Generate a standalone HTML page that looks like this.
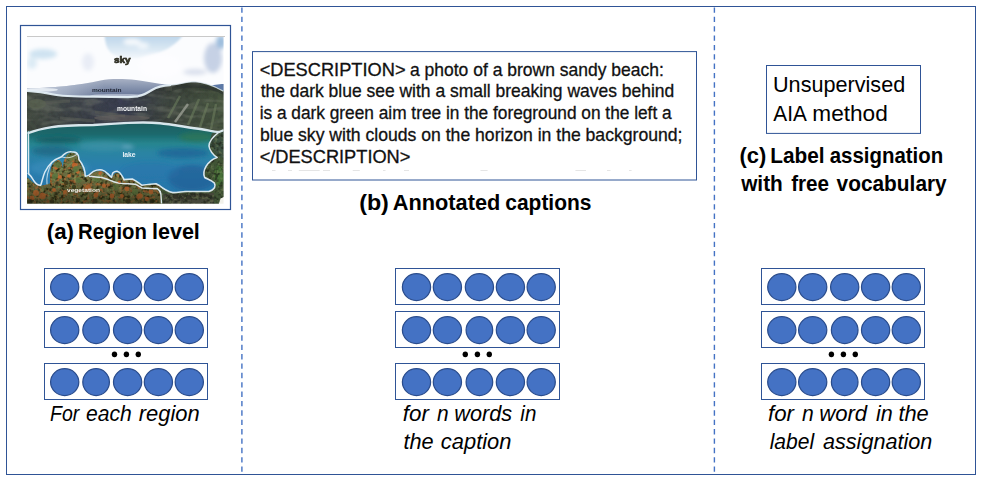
<!DOCTYPE html>
<html><head><meta charset="utf-8"><title>figure</title>
<style>
html,body{margin:0;padding:0;background:#fff;}
body{width:982px;height:482px;position:relative;overflow:hidden;font-family:"Liberation Sans",sans-serif;color:#000;}
svg{position:absolute;left:0;top:0;}
</style></head><body>
<svg width="982" height="482" viewBox="0 0 982 482">
<rect x="6.5" y="6.5" width="969" height="468" fill="#fff" stroke="#2f5496" stroke-width="1"/>
<line x1="241.9" y1="7.4" x2="241.9" y2="471.8" stroke="#4472c4" stroke-width="1.4" stroke-dasharray="5.35 4.02"/>
<line x1="714.4" y1="7.4" x2="714.4" y2="471.8" stroke="#4472c4" stroke-width="1.4" stroke-dasharray="5.35 4.02"/>
<rect x="20.5" y="25.5" width="210" height="184" fill="#fff" stroke="#2f5496" stroke-width="1.2"/>
<rect x="252.5" y="51.6" width="444" height="128.4" fill="#fff" stroke="#2f5496" stroke-width="1"/>
<rect x="766.5" y="65.5" width="154" height="67.9" fill="#fff" stroke="#2f5496" stroke-width="1"/>
<defs>
<clipPath id="pc"><rect x="27" y="36.6" width="196.6" height="167.1"/></clipPath>
<linearGradient id="gsky" x1="0" y1="0" x2="0" y2="1"><stop offset="0" stop-color="#b2cfe8"/><stop offset=".5" stop-color="#cfe1f0"/><stop offset="1" stop-color="#f2f7fb"/></linearGradient>
<linearGradient id="gfar" x1="0" y1="0" x2="0" y2="1"><stop offset="0" stop-color="#a7b0c3"/><stop offset=".35" stop-color="#8a97b1"/><stop offset=".75" stop-color="#6b7a9a"/><stop offset="1" stop-color="#8d9ab3"/></linearGradient>
<linearGradient id="gfarh" x1="0" y1="0" x2="1" y2="0"><stop offset="0" stop-color="#dfe6ef" stop-opacity=".9"/><stop offset=".3" stop-color="#c5cedd" stop-opacity=".55"/><stop offset=".55" stop-color="#c5cedd" stop-opacity="0"/></linearGradient>
<linearGradient id="gmtn" x1="0" y1="0" x2="1" y2="0"><stop offset="0" stop-color="#4a5345"/><stop offset=".22" stop-color="#41474a"/><stop offset=".5" stop-color="#3a3e52"/><stop offset=".72" stop-color="#404841"/><stop offset="1" stop-color="#4b5a42"/></linearGradient>
<linearGradient id="gmtnv" x1="0" y1="0" x2="0" y2="1"><stop offset="0" stop-color="#000" stop-opacity=".28"/><stop offset=".35" stop-color="#000" stop-opacity="0"/><stop offset="1" stop-color="#000" stop-opacity=".12"/></linearGradient>
<linearGradient id="glake" gradientUnits="userSpaceOnUse" x1="0" y1="122" x2="0" y2="194"><stop offset="0" stop-color="#1c5d5f"/><stop offset=".17" stop-color="#1b696d"/><stop offset=".3" stop-color="#27858f"/><stop offset=".42" stop-color="#2a84a2"/><stop offset=".65" stop-color="#2b7eaf"/><stop offset="1" stop-color="#2675a8"/></linearGradient>
<filter id="soft" x="-5%" y="-5%" width="110%" height="110%"><feGaussianBlur stdDeviation="0.75"/></filter>
<filter id="soft3" x="-10%" y="-30%" width="120%" height="160%"><feGaussianBlur stdDeviation="0.6"/></filter>
<filter id="soft2" x="-5%" y="-5%" width="110%" height="110%"><feGaussianBlur stdDeviation="0.45"/></filter>
<filter id="cloud1" x="-10%" y="-10%" width="120%" height="120%"><feGaussianBlur stdDeviation="1.3"/></filter>
<filter id="cloud" x="-10%" y="-10%" width="120%" height="120%"><feGaussianBlur stdDeviation="2.2"/></filter>
<filter id="nz" x="0" y="0" width="100%" height="100%"><feTurbulence type="fractalNoise" baseFrequency="0.22" numOctaves="2" seed="7" result="n"/><feColorMatrix in="n" type="matrix" values="0 0 0 0 0  0 0 0 0 0  0 0 0 0 0  1.6 0 0 0 -0.62" result="m"/><feComposite in="SourceGraphic" in2="m" operator="in"/></filter>
<filter id="nz3" x="0" y="0" width="100%" height="100%"><feTurbulence type="fractalNoise" baseFrequency="0.27" numOctaves="2" seed="41" result="n"/><feColorMatrix in="n" type="matrix" values="0 0 0 0 0  0 0 0 0 0  0 0 0 0 0  4.5 0 0 0 -2.3" result="m"/><feComposite in="SourceGraphic" in2="m" operator="in"/></filter>
<filter id="nzd" x="0" y="0" width="100%" height="100%"><feTurbulence type="fractalNoise" baseFrequency="0.26" numOctaves="2" seed="5" result="n"/><feColorMatrix in="n" type="matrix" values="0 0 0 0 0  0 0 0 0 0  0 0 0 0 0  4 0 0 0 -1.8" result="m"/><feComposite in="SourceGraphic" in2="m" operator="in"/></filter>
<filter id="nzm" x="0" y="0" width="100%" height="100%"><feTurbulence type="fractalNoise" baseFrequency="0.05 0.16" numOctaves="2" seed="11" result="n"/><feColorMatrix in="n" type="matrix" values="0 0 0 0 0  0 0 0 0 0  0 0 0 0 0  4 0 0 0 -1.9" result="m"/><feComposite in="SourceGraphic" in2="m" operator="in"/></filter>
<filter id="nz2" x="0" y="0" width="100%" height="100%"><feTurbulence type="fractalNoise" baseFrequency="0.3" numOctaves="2" seed="23" result="n"/><feColorMatrix in="n" type="matrix" values="0 0 0 0 0  0 0 0 0 0  0 0 0 0 0  4.5 0 0 0 -2.3" result="m"/><feComposite in="SourceGraphic" in2="m" operator="in"/></filter>
<path id="mt" d="M20,90.6 C33,91 44,92.4 52,94.2 C60,96 68,96.5 93.5,96.7 L128,97.2 L138,96.3 C143,95.2 147.6,92.8 152,90 C157,87 163,85.5 170,85.2 C178,84.6 186,82 193.5,81.7 C204,82 214,86 226,92 L226,136 L20,136 Z"/>
<path id="veg" d="M20,176 L28,178 C31,181 35,185 40.7,185.5 C44,185.5 46,184.5 50,183.5 L50,176 C50,168 53,161 58,160 C61,160 62,164 63,168 C63.5,160 66,153.5 71.3,152.5 C77,152.5 79,158 80.5,163 C82.5,168 84,173 85.2,177 C88,176 90,174.8 93.5,172.3 C97,170.8 100,170.8 102,171.2 C105,172.5 108,175.5 111.6,178.3 C113,175 115,173 117.2,172.5 C120,173.5 122,176.5 124.1,180.2 L132.3,180 C137.9,182.5 139,184 142,186 C147.6,185.3 152,184.8 156,184.6 L158.8,186 C160,187.5 161,191 161.2,196 L161.5,210 L20,210 Z"/>
<path id="land" d="M219,132 C214,136 208.8,141.5 209,146 C209.5,150 213,155.3 217.2,157.4 C212,159 208,163 206,166.4 C204,170 203,174 204.7,177.5 C207,179 212,180 214.4,183.1 C216,186 215,189.5 208.8,191.5 L185.2,191.5 C180,192 176,192.8 172.7,192.6 C169,192 165.7,190.8 158.8,185.2 L156,183.8 C152,184 147.6,184.5 142,185.2 C139,183.5 137.9,181.7 132.3,179 L124,179.6 L124,210 L226,210 L226,131 Z"/>
<linearGradient id="gvd" gradientUnits="userSpaceOnUse" x1="0" y1="178" x2="0" y2="204"><stop offset="0" stop-color="#1c1c0c" stop-opacity="0"/><stop offset=".6" stop-color="#1c1c0c" stop-opacity=".28"/><stop offset="1" stop-color="#14140a" stop-opacity=".5"/></linearGradient>
</defs>
<g clip-path="url(#pc)">
<g filter="url(#soft)">
<!-- sky / clouds -->
<rect x="20" y="30" width="212" height="80" fill="#fbfcfe"/>
<path d="M104,30 L186,30 C181,40 173,46 165,50 C157,54 149,56 139,58 C128,59 117,58 111,53 C106,48 105,42 104,30 Z" fill="url(#gsky)" filter="url(#cloud1)"/>
<g filter="url(#cloud)">
<ellipse cx="43" cy="54" rx="14" ry="5" fill="#cfe3f1"/>
<ellipse cx="32" cy="63" rx="5" ry="6" fill="#dcebf5"/>
<ellipse cx="132" cy="42" rx="9" ry="3.5" fill="#f6f9fc"/>
<ellipse cx="143" cy="46" rx="6" ry="3.5" fill="#f1f6fb"/>
<ellipse cx="213" cy="58" rx="9" ry="15" fill="#c6d1e5"/>
<ellipse cx="221" cy="42" rx="5" ry="7" fill="#9dbddd"/>
<ellipse cx="88" cy="62" rx="6" ry="9" fill="#e9edf6"/>
<ellipse cx="195" cy="72" rx="12" ry="3" fill="#d9dfec"/>
<ellipse cx="160" cy="66" rx="22" ry="12" fill="#fdfdff"/>
</g>
<!-- distant mountain -->
<path d="M20,88.8 C50,87.5 78,86 100.5,80.4 C111,78.3 125,78.8 136,80 C150,82 160,84 174,85.5 L174,100 L20,100 Z" fill="url(#gfar)"/>
<path d="M20,88.8 C50,87.5 78,86 100.5,80.4 C111,78.3 125,78.8 136,80 C150,82 160,84 174,85.5 L174,100 L20,100 Z" fill="url(#gfarh)"/>
<path d="M210,86 C215,84.5 220,84 226,84 L226,94 L210,92 Z" fill="#5d79a6"/>
<ellipse cx="42" cy="89.8" rx="16" ry="1.8" fill="#eef2f7" opacity=".8"/><ellipse cx="120" cy="95.5" rx="30" ry="1.6" fill="#b4bdd0" opacity=".8"/>
<!-- near mountain -->
<use href="#mt" fill="url(#gmtn)"/>
<use href="#mt" fill="url(#gmtnv)"/>
<use href="#mt" fill="#1c2020" filter="url(#nz)" opacity=".3"/><use href="#mt" fill="#858a7a" filter="url(#nzm)" opacity=".3"/>
<path d="M188,104 L175,122" stroke="#9a9e93" stroke-width="2.4" opacity=".8"/>
<path d="M199,99 L188,125 M208,103 L200,127 M216,104 L211,129 M180,96 L168,118" stroke="#6f8060" stroke-width="2.4" opacity=".55"/>
<path d="M40,103 L70,101 M95,112 L125,116 M60,118 L95,121" stroke="#5d6058" stroke-width="3" opacity=".5"/>
<ellipse cx="37" cy="104" rx="9" ry="5" fill="#5d6653" opacity=".6"/><ellipse cx="122" cy="118" rx="28" ry="3" fill="#6b6660" opacity=".55"/><path d="M172,87 C182,85 192,83.5 200,84.5 C210,86 218,89 224,92.5 L224,95 C214,90 204,87.5 194,87.5 C186,87.5 178,89 172,91 Z" fill="#2c322e" opacity=".6"/>
<!-- lake -->
<path d="M20,133 C35,129.8 45,128 51.8,126.9 C60,125.5 69.9,125 93.5,124.8 C105,124 114.4,123.4 128,122.7 C140,122.2 151.8,122.3 160,123 C170,124 186.6,126.9 201.9,129 C208,130 214.4,131.5 226,131 L226,210 L20,210 Z" fill="url(#glake)"/>
<g filter="url(#cloud)">
<ellipse cx="197" cy="137" rx="18" ry="5" fill="#2a7455" opacity=".8"/>
<ellipse cx="183" cy="153" rx="26" ry="5" fill="#1d5f95" opacity=".7"/>
<ellipse cx="58" cy="140" rx="24" ry="3.5" fill="#15555b" opacity=".7"/>
<ellipse cx="52" cy="151" rx="20" ry="5" fill="#1a607e" opacity=".65"/>
<ellipse cx="105" cy="146" rx="26" ry="5" fill="#4597b4" opacity=".5"/>
<ellipse cx="60" cy="168" rx="30" ry="8" fill="#3a8fbc" opacity=".55"/>
<ellipse cx="128" cy="147" rx="6" ry="2" fill="#7db4cf" opacity=".6"/>
<ellipse cx="192" cy="178" rx="24" ry="13" fill="#1f5690" opacity=".55"/>
<ellipse cx="150" cy="172" rx="30" ry="10" fill="#2470a8" opacity=".4"/>
</g>
<!-- land right of lake -->
<use href="#land" fill="#3f5334"/>
<path d="M212,133 L226,131 L226,160 C220,157 212,152 210,146 C209,141 211,137 212,133Z" fill="#3c5140"/>
<ellipse cx="219" cy="176" rx="5" ry="11" fill="#4c7d3a" opacity=".7"/>
<path d="M163,194 L214,193 L214,210 L163,210 Z" fill="#45473a"/>
<ellipse cx="190" cy="196.5" rx="24" ry="3" fill="#2f3128" opacity=".8"/>
<use href="#land" fill="#20281c" filter="url(#nzd)" opacity=".7"/>
<use href="#land" fill="#7d8a5c" filter="url(#nz3)" opacity=".45"/>
<!-- vegetation foreground -->
<use href="#veg" fill="#6b6b40"/>
<use href="#veg" fill="#26280f" filter="url(#nzd)" opacity=".9"/>
<use href="#veg" fill="#c46a36" filter="url(#nz2)" opacity=".7"/>
<use href="#veg" fill="#7f9858" filter="url(#nz3)" opacity=".6"/>
<g fill="#c8672f" filter="url(#soft2)" opacity=".85">
<circle cx="36" cy="193" r="3"/><circle cx="42.5" cy="196" r="3.2"/><circle cx="32" cy="198" r="2.4"/><circle cx="56" cy="168" r="1.8"/><circle cx="74.5" cy="165" r="2.6"/><circle cx="72" cy="159" r="2"/><circle cx="60" cy="177" r="2"/><circle cx="100" cy="173.5" r="1.6"/><circle cx="65" cy="192" r="2"/><circle cx="88" cy="188" r="3"/><circle cx="112" cy="196" r="2.4"/><circle cx="127" cy="189" r="2.4"/><circle cx="140" cy="196" r="2.8"/><circle cx="151" cy="192" r="2.4"/><circle cx="104" cy="186" r="2"/><circle cx="119" cy="182" r="1.6"/><circle cx="78" cy="172" r="1.8"/><circle cx="69" cy="176" r="1.8"/><circle cx="96" cy="195" r="2.4"/><circle cx="54" cy="190" r="2"/><circle cx="147" cy="199" r="2.2"/><circle cx="122" cy="196" r="2"/>
</g>
<g fill="#5a7740" filter="url(#soft2)" opacity=".8"><circle cx="58" cy="165" r="3"/><circle cx="71" cy="158" r="3"/><circle cx="76" cy="169" r="3"/><circle cx="55" cy="176" r="3"/><circle cx="79" cy="180" r="3"/><circle cx="97" cy="179" r="3"/><circle cx="116" cy="187" r="3"/><circle cx="135" cy="192" r="3"/></g>
<g fill="#2a2a12" filter="url(#soft2)" opacity=".7"><circle cx="66" cy="183" r="2.2"/><circle cx="74" cy="187" r="2.2"/><circle cx="30" cy="201.5" r="2.6"/><circle cx="95" cy="201" r="2.6"/><circle cx="128" cy="201" r="2.6"/><circle cx="152" cy="201" r="2.4"/><circle cx="52" cy="201.5" r="2.2"/><circle cx="78" cy="200" r="2.2"/><circle cx="73" cy="176" r="1.6"/><circle cx="57" cy="183" r="1.6"/></g>
<use href="#veg" fill="url(#gvd)"/>
<path d="M220.5,198.5 L226,196 L226,210 L217,210 Z" fill="#f1f1ea"/>
</g>
<!-- white region outlines -->
<g filter="url(#soft2)" fill="none" stroke="#e6f1f8" stroke-width="1.9" opacity=".93" stroke-linejoin="round" stroke-linecap="round">
<path d="M27.5,91 C35,91.4 45,92.6 52,94.2 C60,96 68,96.5 93.5,96.7 L128,97.2 L138,96.3 C143,95.2 147.6,92.8 152,90 C157,87 163,85.5 170,85.2" stroke-width="2.2"/>
<path d="M170,85.2 C178,84.6 186,82 193.5,81.7 C204,82 214,86 223,91" stroke-width="1.2" opacity=".85"/>
<path d="M28.6,133 C35,130.4 45,128.2 51.8,127.1 C60,125.7 69.9,125.2 93.5,125 C105,124.2 114.4,123.6 128,122.9 C140,122.4 151.8,122.5 160,123.2 C170,124.2 186.6,127.1 201.9,129.2 C208,130.2 214.4,131.7 219,132 L223,130.5" stroke-width="2.4"/>
<path d="M28.4,132 L28.6,173.4" stroke-width="1.5"/>
<path d="M219,132 C214,136 208.8,141.5 209,146 C209.5,150 213,155.3 217.2,157.4 C212,159 208,163 206,166.4 C204,170 203,174 204.7,177.5 C207,179 212,180 214.4,183.1 C216,186 215,189.5 208.8,191.5 L185.2,191.5 C180,192 176,192.8 172.7,192.6 C169,192 165.7,190.8 158.8,185.2 L156,183.8 C152,184 147.6,184.5 142,185.2 C139,183.5 137.9,181.7 132.3,179 L124,179.6" stroke-width="1.6"/>
<path d="M28.2,173.4 C30,175 32.3,177.5 34,181 C36,184 38,185.4 40.7,185.2 C42,182 43,176 44.9,172 C47,168 49,165 51.8,162.3 C55,159.5 58,158 61.5,156.7 C63,155 64,154 65.7,153.2 C67.5,152 69.5,151.6 71.3,151.8 C74,151.8 76.5,152.6 77.5,153.9 C79,155.5 78.6,157.5 78.9,159.5 C81,162 82.6,165 83.8,167.8 C85,171 85.2,174 85.2,176.2 C87,176 88,175.5 89.4,174.8 C90.5,173.5 92,172.2 93.5,171.3 C96,170 99,169.6 101.9,169.9 C104,170.5 106,171.8 107.4,173.4 C109,175 110.5,176.5 111.6,177.5 C111.8,175.5 112.2,174 113,172.7 C114.2,171.6 115.6,171.2 117.2,171.3 C119,171.8 120.4,173 121.4,174.8 C122.5,176.5 123.3,178 124.1,179.6" stroke-width="1.5"/>
<path d="M51.8,162.3 C49,168 46,176 47,184 M61.5,156.7 C66,158.5 72,158 77.5,153.9" stroke-width="1.1" opacity=".8"/>
<path d="M89.4,176.2 C94,176.6 98,177 101.9,177.5 C105,178.5 108,179.5 110.2,180.3 C113,181.5 116,182.5 118.6,183.1 C122,183.6 125,183.8 128,183.8 L135,184.2 C138,185.5 140,187 142,188 L157.4,188.7 C159.5,190 160.6,192 160.9,194.2 L161.5,203" stroke-width="1.4"/>
</g>
<!-- tiny labels -->
<g font-family="Liberation Sans, sans-serif" font-weight="bold" filter="url(#soft3)">
<text x="114" y="62.8" font-size="8.6" fill="#4a4a2a" stroke="#1e1e1a" stroke-width=".6" textLength="16.6" lengthAdjust="spacingAndGlyphs">sky</text>
<text x="92" y="91.8" font-size="6" fill="#1d2230" textLength="29.5" lengthAdjust="spacingAndGlyphs">mountain</text>
<text x="117" y="111" font-size="6.4" fill="#f4f6f8" textLength="30" lengthAdjust="spacingAndGlyphs">mountain</text>
<text x="122.4" y="157.2" font-size="7.6" fill="#eaf3f8" textLength="13.2" lengthAdjust="spacingAndGlyphs">lake</text>
<text x="67" y="192.2" font-size="6" fill="#f3efe8" textLength="33" lengthAdjust="spacingAndGlyphs">vegetation</text>
</g>
</g>
<rect x="27" y="36" width="198" height="1" fill="#c9c9c9"/>

<rect x="272" y="170" width="3.5" height="0.9" fill="#e3e3e3"/><rect x="288" y="170" width="4" height="0.9" fill="#e3e3e3"/><rect x="298.8" y="170" width="20.9" height="0.9" fill="#e3e3e3"/><rect x="323" y="170" width="7" height="0.9" fill="#e3e3e3"/><rect x="352.7" y="170" width="7.1" height="0.9" fill="#e3e3e3"/><rect x="383" y="170" width="2.5" height="0.9" fill="#e3e3e3"/><rect x="404" y="170" width="5" height="0.9" fill="#e3e3e3"/><rect x="480.5" y="170" width="7.1" height="0.9" fill="#e3e3e3"/><rect x="575.4" y="170" width="10.6" height="0.9" fill="#e3e3e3"/><rect x="607" y="170" width="3.5" height="0.9" fill="#e3e3e3"/><rect x="629" y="170" width="2.6" height="0.9" fill="#e3e3e3"/>
<rect x="44.5" y="268.5" width="163" height="36" fill="#fff" stroke="#2f5496" stroke-width="1"/>
<ellipse cx="64.7" cy="287.10" rx="14.1" ry="13.45" fill="#4472c4" stroke="#2a4c8c" stroke-width="1.25"/>
<ellipse cx="96.1" cy="287.10" rx="13.3" ry="13.45" fill="#4472c4" stroke="#2a4c8c" stroke-width="1.25"/>
<ellipse cx="127.6" cy="287.10" rx="14.1" ry="13.45" fill="#4472c4" stroke="#2a4c8c" stroke-width="1.25"/>
<ellipse cx="158.4" cy="287.10" rx="14.1" ry="13.45" fill="#4472c4" stroke="#2a4c8c" stroke-width="1.25"/>
<ellipse cx="189.3" cy="287.10" rx="14.1" ry="13.45" fill="#4472c4" stroke="#2a4c8c" stroke-width="1.25"/>
<rect x="44.5" y="311.5" width="163" height="36" fill="#fff" stroke="#2f5496" stroke-width="1"/>
<ellipse cx="64.7" cy="330.10" rx="14.1" ry="13.45" fill="#4472c4" stroke="#2a4c8c" stroke-width="1.25"/>
<ellipse cx="96.1" cy="330.10" rx="13.3" ry="13.45" fill="#4472c4" stroke="#2a4c8c" stroke-width="1.25"/>
<ellipse cx="127.6" cy="330.10" rx="14.1" ry="13.45" fill="#4472c4" stroke="#2a4c8c" stroke-width="1.25"/>
<ellipse cx="158.4" cy="330.10" rx="14.1" ry="13.45" fill="#4472c4" stroke="#2a4c8c" stroke-width="1.25"/>
<ellipse cx="189.3" cy="330.10" rx="14.1" ry="13.45" fill="#4472c4" stroke="#2a4c8c" stroke-width="1.25"/>
<rect x="44.5" y="363.5" width="163" height="36" fill="#fff" stroke="#2f5496" stroke-width="1"/>
<ellipse cx="64.7" cy="382.10" rx="14.1" ry="13.45" fill="#4472c4" stroke="#2a4c8c" stroke-width="1.25"/>
<ellipse cx="96.1" cy="382.10" rx="13.3" ry="13.45" fill="#4472c4" stroke="#2a4c8c" stroke-width="1.25"/>
<ellipse cx="127.6" cy="382.10" rx="14.1" ry="13.45" fill="#4472c4" stroke="#2a4c8c" stroke-width="1.25"/>
<ellipse cx="158.4" cy="382.10" rx="14.1" ry="13.45" fill="#4472c4" stroke="#2a4c8c" stroke-width="1.25"/>
<ellipse cx="189.3" cy="382.10" rx="14.1" ry="13.45" fill="#4472c4" stroke="#2a4c8c" stroke-width="1.25"/>
<ellipse cx="114.5" cy="354.3" rx="2.7" ry="2.9" fill="#000"/>
<ellipse cx="126.4" cy="354.3" rx="2.7" ry="2.9" fill="#000"/>
<ellipse cx="138.3" cy="354.3" rx="2.7" ry="2.9" fill="#000"/>
<rect x="395.5" y="268.5" width="164" height="36" fill="#fff" stroke="#2f5496" stroke-width="1"/>
<ellipse cx="416.5" cy="287.10" rx="14.1" ry="13.45" fill="#4472c4" stroke="#2a4c8c" stroke-width="1.25"/>
<ellipse cx="447.4" cy="287.10" rx="14.1" ry="13.45" fill="#4472c4" stroke="#2a4c8c" stroke-width="1.25"/>
<ellipse cx="479.4" cy="287.10" rx="14.1" ry="13.45" fill="#4472c4" stroke="#2a4c8c" stroke-width="1.25"/>
<ellipse cx="510.4" cy="287.10" rx="14.1" ry="13.45" fill="#4472c4" stroke="#2a4c8c" stroke-width="1.25"/>
<ellipse cx="541.2" cy="287.10" rx="14.1" ry="13.45" fill="#4472c4" stroke="#2a4c8c" stroke-width="1.25"/>
<rect x="395.5" y="311.5" width="164" height="36" fill="#fff" stroke="#2f5496" stroke-width="1"/>
<ellipse cx="416.5" cy="330.10" rx="14.1" ry="13.45" fill="#4472c4" stroke="#2a4c8c" stroke-width="1.25"/>
<ellipse cx="447.4" cy="330.10" rx="14.1" ry="13.45" fill="#4472c4" stroke="#2a4c8c" stroke-width="1.25"/>
<ellipse cx="479.4" cy="330.10" rx="13.3" ry="13.45" fill="#4472c4" stroke="#2a4c8c" stroke-width="1.25"/>
<ellipse cx="510.4" cy="330.10" rx="14.1" ry="13.45" fill="#4472c4" stroke="#2a4c8c" stroke-width="1.25"/>
<ellipse cx="541.2" cy="330.10" rx="14.1" ry="13.45" fill="#4472c4" stroke="#2a4c8c" stroke-width="1.25"/>
<rect x="395.5" y="363.5" width="164" height="36" fill="#fff" stroke="#2f5496" stroke-width="1"/>
<ellipse cx="416.5" cy="382.10" rx="14.1" ry="13.45" fill="#4472c4" stroke="#2a4c8c" stroke-width="1.25"/>
<ellipse cx="447.4" cy="382.10" rx="14.1" ry="13.45" fill="#4472c4" stroke="#2a4c8c" stroke-width="1.25"/>
<ellipse cx="479.4" cy="382.10" rx="13.3" ry="13.45" fill="#4472c4" stroke="#2a4c8c" stroke-width="1.25"/>
<ellipse cx="510.4" cy="382.10" rx="14.1" ry="13.45" fill="#4472c4" stroke="#2a4c8c" stroke-width="1.25"/>
<ellipse cx="541.2" cy="382.10" rx="14.1" ry="13.45" fill="#4472c4" stroke="#2a4c8c" stroke-width="1.25"/>
<ellipse cx="465.3" cy="354.3" rx="2.7" ry="2.9" fill="#000"/>
<ellipse cx="477.4" cy="354.3" rx="2.7" ry="2.9" fill="#000"/>
<ellipse cx="489.3" cy="354.3" rx="2.7" ry="2.9" fill="#000"/>
<rect x="761.5" y="268.5" width="163" height="36" fill="#fff" stroke="#2f5496" stroke-width="1"/>
<ellipse cx="781.8" cy="287.10" rx="14.1" ry="13.45" fill="#4472c4" stroke="#2a4c8c" stroke-width="1.25"/>
<ellipse cx="812.7" cy="287.10" rx="14.1" ry="13.45" fill="#4472c4" stroke="#2a4c8c" stroke-width="1.25"/>
<ellipse cx="844.7" cy="287.10" rx="14.1" ry="13.45" fill="#4472c4" stroke="#2a4c8c" stroke-width="1.25"/>
<ellipse cx="875.6" cy="287.10" rx="14.1" ry="13.45" fill="#4472c4" stroke="#2a4c8c" stroke-width="1.25"/>
<ellipse cx="906.3" cy="287.10" rx="14.1" ry="13.45" fill="#4472c4" stroke="#2a4c8c" stroke-width="1.25"/>
<rect x="761.5" y="311.5" width="163" height="36" fill="#fff" stroke="#2f5496" stroke-width="1"/>
<ellipse cx="781.8" cy="330.10" rx="14.1" ry="13.45" fill="#4472c4" stroke="#2a4c8c" stroke-width="1.25"/>
<ellipse cx="812.7" cy="330.10" rx="14.1" ry="13.45" fill="#4472c4" stroke="#2a4c8c" stroke-width="1.25"/>
<ellipse cx="844.7" cy="330.10" rx="13.3" ry="13.45" fill="#4472c4" stroke="#2a4c8c" stroke-width="1.25"/>
<ellipse cx="875.6" cy="330.10" rx="14.1" ry="13.45" fill="#4472c4" stroke="#2a4c8c" stroke-width="1.25"/>
<ellipse cx="906.3" cy="330.10" rx="14.1" ry="13.45" fill="#4472c4" stroke="#2a4c8c" stroke-width="1.25"/>
<rect x="761.5" y="363.5" width="163" height="36" fill="#fff" stroke="#2f5496" stroke-width="1"/>
<ellipse cx="781.8" cy="382.10" rx="14.1" ry="13.45" fill="#4472c4" stroke="#2a4c8c" stroke-width="1.25"/>
<ellipse cx="812.7" cy="382.10" rx="14.1" ry="13.45" fill="#4472c4" stroke="#2a4c8c" stroke-width="1.25"/>
<ellipse cx="844.7" cy="382.10" rx="13.3" ry="13.45" fill="#4472c4" stroke="#2a4c8c" stroke-width="1.25"/>
<ellipse cx="875.6" cy="382.10" rx="14.1" ry="13.45" fill="#4472c4" stroke="#2a4c8c" stroke-width="1.25"/>
<ellipse cx="906.3" cy="382.10" rx="14.1" ry="13.45" fill="#4472c4" stroke="#2a4c8c" stroke-width="1.25"/>
<ellipse cx="831.4" cy="354.3" rx="2.7" ry="2.9" fill="#000"/>
<ellipse cx="843.4" cy="354.3" rx="2.7" ry="2.9" fill="#000"/>
<ellipse cx="855.3" cy="354.3" rx="2.7" ry="2.9" fill="#000"/>
<g font-family="Liberation Sans, sans-serif" fill="#000"><text transform="translate(46.78 239) scale(1.0245 1)" font-size="21.8" font-weight="bold">(a)</text>
<text transform="translate(78.1 239) scale(0.931 1)" font-size="21.8" font-weight="bold">Region</text>
<text transform="translate(151.92 239) scale(0.989 1)" font-size="21.8" font-weight="bold">level</text>
<text transform="translate(359.13 210) scale(1.068 1)" font-size="21.8" font-weight="bold">(b)</text>
<text transform="translate(392.8 210) scale(0.9986 1)" font-size="21.8" font-weight="bold">Annotated</text>
<text transform="translate(505.28 210) scale(0.9614 1)" font-size="21.8" font-weight="bold">captions</text>
<text transform="translate(739.5 163) scale(1.0041 1)" font-size="21.8" font-weight="bold">(c)</text>
<text transform="translate(770.27 163) scale(0.9537 1)" font-size="21.8" font-weight="bold">Label</text>
<text transform="translate(829.73 163) scale(0.9375 1)" font-size="21.8" font-weight="bold">assignation</text>
<text transform="translate(741.2 191) scale(0.9538 1)" font-size="21.8" font-weight="bold">with</text>
<text transform="translate(791.16 191) scale(0.9487 1)" font-size="21.8" font-weight="bold">free</text>
<text transform="translate(836.6 191) scale(0.9565 1)" font-size="21.8" font-weight="bold">vocabulary</text>
<text transform="translate(773.01 92) scale(0.9923 1)" font-size="21.8">Unsupervised</text>
<text transform="translate(773.3 121) scale(0.971 1)" font-size="21.4">AIA</text>
<text transform="translate(812.28 121) scale(1.0589 1)" font-size="21.4">method</text>
<text transform="translate(50.12 421) scale(0.9015 1)" font-size="21.6" font-style="italic">For</text>
<text transform="translate(85.97 421) scale(0.9768 1)" font-size="21.6" font-style="italic">each</text>
<text transform="translate(138.75 421) scale(1.0162 1)" font-size="21.6" font-style="italic">region</text>
<text transform="translate(402.82 421) scale(1.0376 1)" font-size="21.6" font-style="italic">for</text>
<text transform="translate(437.06 421) scale(0.9674 1)" font-size="21.6" font-style="italic">n</text>
<text transform="translate(454.3 421) scale(1.0044 1)" font-size="21.6" font-style="italic">words</text>
<text transform="translate(520.36 421) scale(0.9524 1)" font-size="21.6" font-style="italic">in</text>
<text transform="translate(403.49 449) scale(1.0053 1)" font-size="21.6" font-style="italic">the</text>
<text transform="translate(440.84 449) scale(1.0147 1)" font-size="21.6" font-style="italic">caption</text>
<text transform="translate(768.03 421) scale(1.0297 1)" font-size="21.6" font-style="italic">for</text>
<text transform="translate(802.06 421) scale(0.9767 1)" font-size="21.6" font-style="italic">n</text>
<text transform="translate(819.18 421) scale(1.0237 1)" font-size="21.6" font-style="italic">word</text>
<text transform="translate(875.95 421) scale(0.9968 1)" font-size="21.6" font-style="italic">in</text>
<text transform="translate(898.39 421) scale(1.0124 1)" font-size="21.6" font-style="italic">the</text>
<text transform="translate(769.66 449) scale(0.9739 1)" font-size="21.6" font-style="italic">label</text>
<text transform="translate(823.0 449) scale(1.0005 1)" font-size="21.6" font-style="italic">assignation</text>
<text transform="translate(259.63 76) scale(1.0252 1)" font-size="17.8" stroke="#111" stroke-width="0.3" fill="#111">&lt;DESCRIPTION&gt;</text>
<text transform="translate(409.96 76) scale(0.9836 1)" font-size="17.8" stroke="#111" stroke-width="0.3" fill="#111">a photo of a brown sandy beach:</text>
<text transform="translate(260.65 97) scale(0.9819 1)" font-size="17.8" stroke="#111" stroke-width="0.3" fill="#111">the dark blue see with a small breaking waves behind</text>
<text transform="translate(259.69 119) scale(0.9711 1)" font-size="17.8" stroke="#111" stroke-width="0.3" fill="#111">is a dark green aim tree in the foreground on the left a</text>
<text transform="translate(259.91 141) scale(0.9895 1)" font-size="17.8" stroke="#111" stroke-width="0.3" fill="#111">blue sky with clouds on the horizon in the background;</text>
<text transform="translate(259.63 163) scale(1.0237 1)" font-size="17.8" stroke="#111" stroke-width="0.3" fill="#111">&lt;/DESCRIPTION&gt;</text></g>
</svg>
</body></html>
